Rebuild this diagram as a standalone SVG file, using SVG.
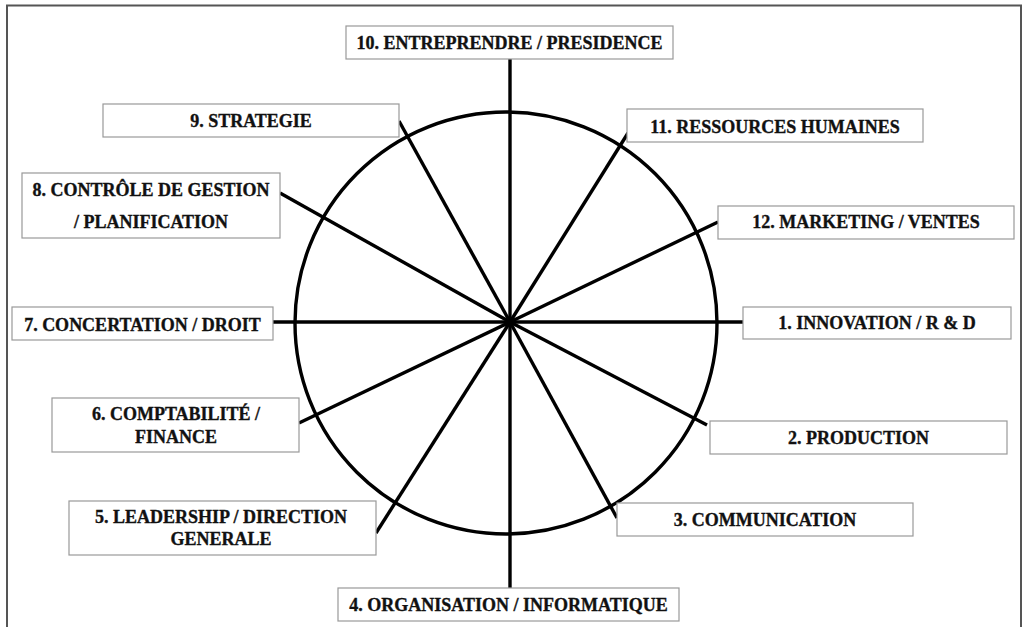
<svg xmlns="http://www.w3.org/2000/svg" width="1024" height="627" viewBox="0 0 1024 627">
<style>
.box{fill:#fff;stroke:#999;stroke-width:1.2}
.lbl{font-family:"Liberation Serif","Times New Roman",serif;font-weight:bold;font-size:18px;fill:#111;stroke:#111;stroke-width:0.35;text-anchor:middle}
.sp{stroke:#000;stroke-width:3.4;fill:none;stroke-linecap:butt}
</style>
<rect x="0" y="0" width="1024" height="627" fill="#fff"/>
<path d="M7,640 L7,5.5 L1021,5.5 L1021,640" fill="none" stroke="#555" stroke-width="2"/>
<g id="connectors">
<circle class="sp" cx="506" cy="323" r="211"/>
<line class="sp" x1="510" y1="59" x2="510" y2="588"/>
<line class="sp" x1="273" y1="322" x2="743" y2="322"/>
<line class="sp" x1="399" y1="121" x2="510" y2="322"/>
<line class="sp" x1="510" y1="322" x2="617" y2="518"/>
<line class="sp" x1="280" y1="193" x2="510" y2="322"/>
<line class="sp" x1="510" y1="322" x2="707" y2="425"/>
<line class="sp" x1="628" y1="133" x2="510" y2="322"/>
<line class="sp" x1="510" y1="322" x2="376" y2="533"/>
<line class="sp" x1="718" y1="222" x2="510" y2="322"/>
<line class="sp" x1="510" y1="322" x2="299" y2="423"/>
</g>
<g id="n10"><rect class="box" x="346" y="26" width="327" height="33"/><text class="lbl" x="509.5" y="49">10. ENTREPRENDRE / PRESIDENCE</text></g>
<g id="n9"><rect class="box" x="103" y="104" width="296" height="33"/><text class="lbl" x="251" y="127">9. STRATEGIE</text></g>
<g id="n11"><rect class="box" x="627" y="109" width="296" height="33"/><text class="lbl" x="775" y="133">11. RESSOURCES HUMAINES</text></g>
<g id="n8"><rect class="box" x="22" y="173" width="258" height="65"/><text class="lbl" x="151" y="196">8. CONTRÔLE DE GESTION</text><text class="lbl" x="151" y="228">/ PLANIFICATION</text></g>
<g id="n12"><rect class="box" x="718" y="206" width="296" height="33"/><text class="lbl" x="866" y="228">12. MARKETING / VENTES</text></g>
<g id="n7"><rect class="box" x="12" y="307" width="261" height="33"/><text class="lbl" x="142.5" y="331">7. CONCERTATION / DROIT</text></g>
<g id="n1"><rect class="box" x="743" y="307" width="268" height="32"/><text class="lbl" x="877" y="329">1. INNOVATION / R &amp; D</text></g>
<g id="n6"><rect class="box" x="52" y="398" width="247" height="54"/><text class="lbl" x="176" y="420">6. COMPTABILITÉ /</text><text class="lbl" x="176" y="443">FINANCE</text></g>
<g id="n2"><rect class="box" x="710" y="421" width="297" height="33"/><text class="lbl" x="858.5" y="444">2. PRODUCTION</text></g>
<g id="n5"><rect class="box" x="69" y="501" width="307" height="54"/><text class="lbl" x="221" y="523">5. LEADERSHIP / DIRECTION</text><text class="lbl" x="221" y="545">GENERALE</text></g>
<g id="n3"><rect class="box" x="617" y="503" width="296" height="33"/><text class="lbl" x="765" y="526">3. COMMUNICATION</text></g>
<g id="n4"><rect class="box" x="338" y="588" width="341" height="33"/><text class="lbl" x="508.5" y="611">4. ORGANISATION / INFORMATIQUE</text></g>
</svg>
